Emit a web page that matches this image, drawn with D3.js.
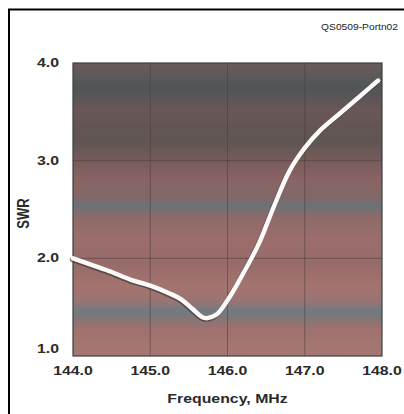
<!DOCTYPE html>
<html>
<head>
<meta charset="utf-8">
<script src="https://cdn.jsdelivr.net/npm/d3@7"></script>
<style>
  html, body { margin: 0; padding: 0; background: #ffffff; }
  svg { display: block; }
  text { font-family: "Liberation Sans", Arial, sans-serif; }
</style>
</head>
<body>
<svg id="chart" width="404" height="414"></svg>
<script>
// ---- data ----
const freqMHz = [144.0, 144.25, 144.5, 144.75, 145.0, 145.25, 145.4, 145.55, 145.7, 145.85,
                 146.0, 146.2, 146.4, 146.6, 146.8, 147.0, 147.2, 147.45, 147.7, 147.95];
const swrValues = [2.0, 1.93, 1.86, 1.78, 1.72, 1.64, 1.58, 1.48, 1.39, 1.42,
                   1.57, 1.84, 2.14, 2.53, 2.89, 3.13, 3.31, 3.48, 3.65, 3.82];
const xTicks = [144.0, 145.0, 146.0, 147.0, 148.0];
const yTicks = [1.0, 2.0, 3.0, 4.0];
const xTitle = "Frequency, MHz";
const yTitle = "SWR";
const figId = "QS0509-Portn02";

// ---- layout ----
const svg = d3.select("#chart");
const pL = 73, pR = 382, pT = 63, pB = 356;
const SX = 1.22; // horizontal stretch of the printed lettering

const x = d3.scaleLinear().domain([144, 148]).range([pL, pR]);
const y = d3.scaleLinear().domain([1, 4]).range([pB, pT]);

// frame
svg.append("path")
  .attr("d", "M9,414 L9,9.5 L404,9.5")
  .attr("fill", "none").attr("stroke", "#000").attr("stroke-width", 2);

// figure id
svg.append("text")
  .attr("transform", `translate(398,29.5) scale(1.08,1)`)
  .attr("text-anchor", "end")
  .attr("font-size", 9.5)
  .attr("fill", "#222")
  .text(figId);

// banded background gradient
const defs = svg.append("defs");
const grad = defs.append("linearGradient")
  .attr("id", "bands").attr("x1", 0).attr("y1", 0).attr("x2", 0).attr("y2", 1);
const stops = [
  [0.00, "#6a5c5b"], [0.04, "#5e5a5a"], [0.08, "#4f5557"], [0.12, "#5c5556"],
  [0.16, "#6a5757"], [0.22, "#645554"], [0.27, "#5f5554"], [0.33, "#765b5a"],
  [0.40, "#8a6463"], [0.46, "#80686a"], [0.49, "#6a7377"], [0.52, "#8c6a69"],
  [0.60, "#9b6e6c"], [0.68, "#966b69"], [0.76, "#a3736f"], [0.81, "#9a7473"],
  [0.85, "#707a82"], [0.88, "#8a7474"], [0.91, "#a0726e"], [1.00, "#a67874"]
];
stops.forEach(s => grad.append("stop").attr("offset", s[0]).attr("stop-color", s[1]));

svg.append("rect")
  .attr("x", pL).attr("y", pT)
  .attr("width", pR - pL).attr("height", pB - pT)
  .attr("fill", "url(#bands)");

// gridlines
const grid = svg.append("g").attr("stroke", "#4a3c3c").attr("stroke-opacity", 0.55).attr("stroke-width", 1);
xTicks.slice(1, -1).forEach(v => {
  grid.append("line").attr("x1", x(v)).attr("x2", x(v)).attr("y1", pT).attr("y2", pB);
});
yTicks.slice(1, -1).forEach(v => {
  grid.append("line").attr("x1", pL).attr("x2", pR).attr("y1", y(v)).attr("y2", y(v));
});

// plot border
svg.append("rect")
  .attr("x", pL).attr("y", pT)
  .attr("width", pR - pL).attr("height", pB - pT)
  .attr("fill", "none").attr("stroke", "#394040").attr("stroke-width", 1.2);

// curve
const line = d3.line().x((d, i) => x(freqMHz[i])).y(d => y(d)).curve(d3.curveCatmullRom.alpha(0.5));
svg.append("path")
  .datum(swrValues)
  .attr("d", line)
  .attr("transform", "translate(-0.8,1.2)")
  .attr("fill", "none").attr("stroke", "#2e2626").attr("stroke-opacity", 0.55)
  .attr("stroke-width", 5).attr("stroke-linecap", "round").attr("stroke-linejoin", "round");
svg.append("path")
  .datum(swrValues)
  .attr("d", line)
  .attr("fill", "none").attr("stroke", "#fcfaf8")
  .attr("stroke-width", 4.5).attr("stroke-linecap", "round").attr("stroke-linejoin", "round");

// y tick labels
svg.append("g").selectAll("text").data(yTicks).join("text")
  .attr("transform", (d, i) => `translate(59,${i === 0 ? y(d) - 3 : y(d) + 4}) scale(${SX},1)`)
  .attr("text-anchor", "end")
  .attr("font-size", 13).attr("font-weight", 700).attr("fill", "#2a2a2a")
  .text(d => d.toFixed(1));

// x tick labels
svg.append("g").selectAll("text").data(xTicks).join("text")
  .attr("transform", d => `translate(${x(d)},375) scale(${SX},1)`)
  .attr("text-anchor", "middle")
  .attr("font-size", 13).attr("font-weight", 700).attr("fill", "#2a2a2a")
  .text(d => d.toFixed(1));

// axis titles
svg.append("text")
  .attr("transform", `translate(${(pL + pR) / 2},403) scale(${SX},1)`)
  .attr("text-anchor", "middle")
  .attr("font-size", 13).attr("font-weight", 700).attr("fill", "#2a2a2a")
  .text(xTitle);

svg.append("text")
  .attr("transform", `translate(29,${(pT + pB) / 2 + 4}) scale(${SX},1) rotate(-90)`)
  .attr("text-anchor", "middle")
  .attr("font-size", 13).attr("font-weight", 700).attr("fill", "#2a2a2a")
  .text(yTitle);
</script>
</body>
</html>
